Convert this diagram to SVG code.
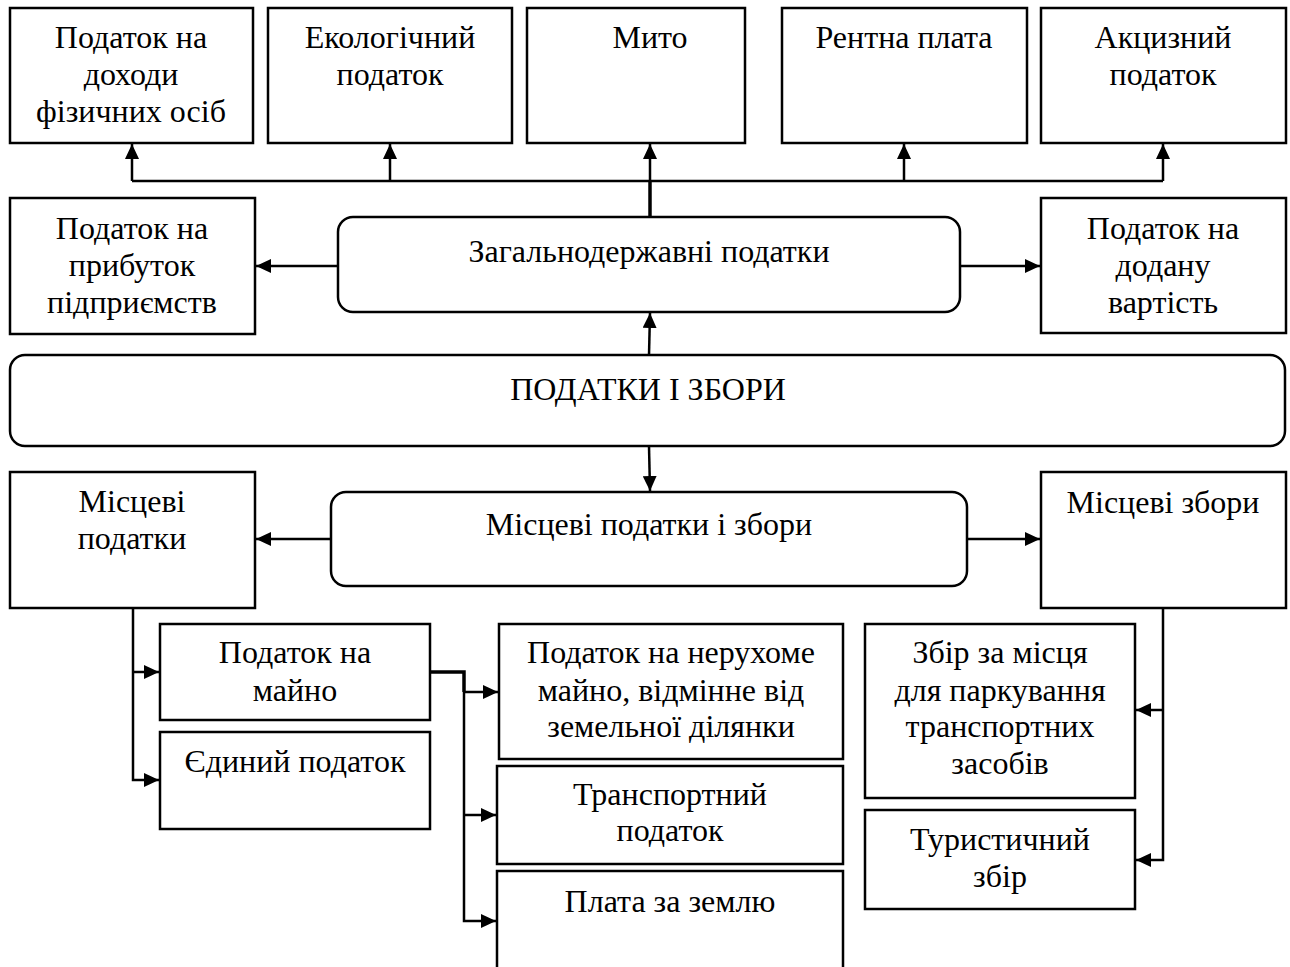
<svg xmlns="http://www.w3.org/2000/svg" width="1290" height="967" viewBox="0 0 1290 967">
<style>
.b{fill:#fff;stroke:#000;stroke-width:2.5}
.t{font-family:"Liberation Serif","Times New Roman",serif;font-size:32px;fill:#000;text-anchor:middle}
.c{fill:none;stroke:#000;stroke-width:2.5}
.k{fill:none;stroke:#000;stroke-width:3.5}
</style>
<defs>
<marker id="a" markerUnits="userSpaceOnUse" markerWidth="16" markerHeight="14" refX="15" refY="7" orient="auto">
<path d="M0,0 L15,7 L0,14 z" fill="#000"/>
</marker>
</defs>
<rect width="1290" height="967" fill="#fff"/>
<g id="connectors">
<path class="c" d="M132,181 H1163"/>
<path class="c" d="M132,181 V144" marker-end="url(#a)"/>
<path class="c" d="M390,181 V144" marker-end="url(#a)"/>
<path class="c" d="M650,181 V144" marker-end="url(#a)"/>
<path class="c" d="M904,181 V144" marker-end="url(#a)"/>
<path class="c" d="M1163,181 V144" marker-end="url(#a)"/>
<path class="k" d="M650,218 V180"/>
<path class="c" d="M338,266 H256" marker-end="url(#a)"/>
<path class="c" d="M960,266 H1040" marker-end="url(#a)"/>
<path class="c" d="M649,355 L650,313" marker-end="url(#a)"/>
<path class="c" d="M649,446 L650,491" marker-end="url(#a)"/>
<path class="c" d="M331,539 H256" marker-end="url(#a)"/>
<path class="c" d="M967,539 H1040" marker-end="url(#a)"/>
<path class="c" d="M133,608 V780 H159" marker-end="url(#a)"/>
<path class="c" d="M133,672 H159" marker-end="url(#a)"/>
<path class="k" d="M430,672 H464 V692"/>
<path class="c" d="M464,692 H498" marker-end="url(#a)"/>
<path class="c" d="M464,692 V921 H496" marker-end="url(#a)"/>
<path class="c" d="M464,815 H496" marker-end="url(#a)"/>
<path class="c" d="M1163,608 V860 H1136" marker-end="url(#a)"/>
<path class="c" d="M1163,710 H1136" marker-end="url(#a)"/>
</g>
<g id="n1"><rect class="b" x="10" y="8" width="243" height="135"/>
<text class="t" x="131" y="48">Податок на</text><text class="t" x="131" y="85">доходи</text><text class="t" x="131" y="122">фізичних осіб</text></g>
<g id="n2"><rect class="b" x="268" y="8" width="244" height="135"/>
<text class="t" x="390" y="48">Екологічний</text><text class="t" x="390" y="85">податок</text></g>
<g id="n3"><rect class="b" x="527" y="8" width="218" height="135"/>
<text class="t" x="650" y="48">Мито</text></g>
<g id="n4"><rect class="b" x="782" y="8" width="245" height="135"/>
<text class="t" x="904" y="48">Рентна плата</text></g>
<g id="n5"><rect class="b" x="1041" y="8" width="245" height="135"/>
<text class="t" x="1163" y="48">Акцизний</text><text class="t" x="1163" y="85">податок</text></g>
<g id="n6"><rect class="b" x="10" y="198" width="245" height="136"/>
<text class="t" x="132" y="239">Податок на</text><text class="t" x="132" y="276">прибуток</text><text class="t" x="132" y="313">підприємств</text></g>
<g id="n7"><rect class="b" x="338" y="217" width="622" height="95" rx="15"/>
<text class="t" x="649" y="262">Загальнодержавні податки</text></g>
<g id="n8"><rect class="b" x="1041" y="198" width="245" height="135"/>
<text class="t" x="1163" y="239">Податок на</text><text class="t" x="1163" y="276">додану</text><text class="t" x="1163" y="313">вартість</text></g>
<g id="n9"><rect class="b" x="10" y="355" width="1275" height="91" rx="15"/>
<text class="t" x="648" y="400">ПОДАТКИ І ЗБОРИ</text></g>
<g id="n10"><rect class="b" x="331" y="492" width="636" height="94" rx="15"/>
<text class="t" x="649" y="535">Місцеві податки і збори</text></g>
<g id="n11"><rect class="b" x="10" y="472" width="245" height="136"/>
<text class="t" x="132" y="512">Місцеві</text><text class="t" x="132" y="549">податки</text></g>
<g id="n12"><rect class="b" x="1041" y="472" width="245" height="136"/>
<text class="t" x="1163" y="513">Місцеві збори</text></g>
<g id="n13"><rect class="b" x="160" y="624" width="270" height="96"/>
<text class="t" x="295" y="663">Податок на</text><text class="t" x="295" y="701">майно</text></g>
<g id="n14"><rect class="b" x="160" y="732" width="270" height="97"/>
<text class="t" x="295" y="772">Єдиний податок</text></g>
<g id="n15"><rect class="b" x="499" y="624" width="344" height="135"/>
<text class="t" x="671" y="663">Податок на нерухоме</text><text class="t" x="671" y="701">майно, відмінне від</text><text class="t" x="671" y="737">земельної ділянки</text></g>
<g id="n16"><rect class="b" x="497" y="766" width="346" height="98"/>
<text class="t" x="670" y="805">Транспортний</text><text class="t" x="670" y="841">податок</text></g>
<g id="n17"><rect class="b" x="497" y="871" width="346" height="110"/>
<text class="t" x="670" y="912">Плата за землю</text></g>
<g id="n18"><rect class="b" x="865" y="624" width="270" height="174"/>
<text class="t" x="1000" y="663">Збір за місця</text><text class="t" x="1000" y="701">для паркування</text><text class="t" x="1000" y="737">транспортних</text><text class="t" x="1000" y="774">засобів</text></g>
<g id="n19"><rect class="b" x="865" y="810" width="270" height="99"/>
<text class="t" x="1000" y="850">Туристичний</text><text class="t" x="1000" y="887">збір</text></g>
</svg>
